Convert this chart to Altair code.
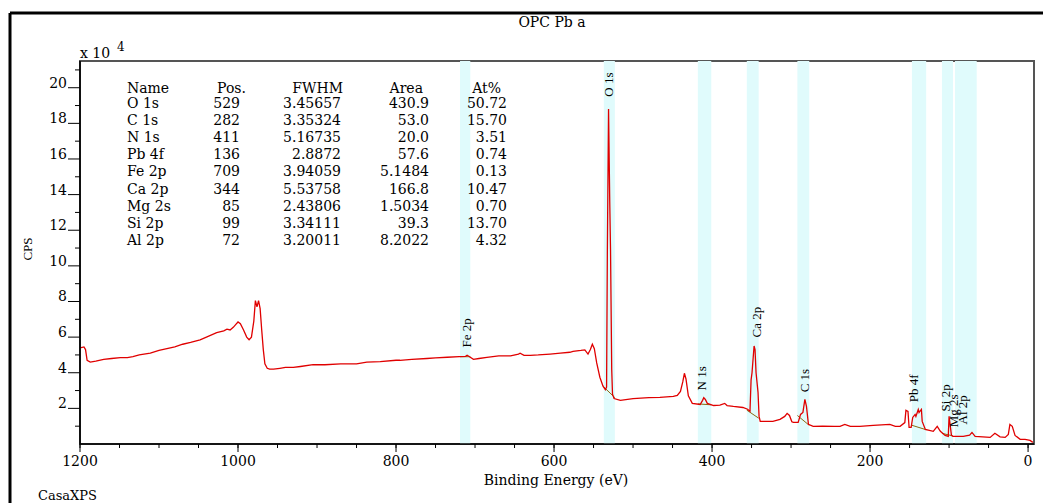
import altair as alt
import pandas as pd

# ---------------- data ----------------
# survey spectrum: binding energy (eV) and counts (x 10^4 CPS)
be = [1200, 1195, 1193, 1191, 1187, 1180, 1170, 1160, 1149, 1140, 1133, 1125, 1111, 1100,
      1090, 1080, 1070, 1060, 1048, 1040, 1027, 1018, 1014, 1010, 1006, 1003, 1000, 997,
      993, 989, 986, 983, 980, 978, 976, 974, 972, 970, 968, 966, 963, 960, 955, 947,
      940, 930, 921, 905, 890, 870, 862, 850, 837, 820, 800, 795, 780, 761, 750, 735,
      720, 712, 710, 707, 702, 695, 685, 670, 655, 645, 643, 638, 630, 620, 605, 592,
      580, 576, 566, 561, 557, 554, 551.5, 549, 546, 542, 538, 535, 533.5, 532.5, 531,
      529.5, 528.5, 527, 526, 524, 516, 500, 480, 466, 449, 444, 440, 437, 435, 433,
      430, 425, 415, 412, 410.5, 408.5, 406, 398, 390, 384, 381, 373, 361, 355, 352,
      350.6, 349.4, 346.8, 345.6, 344.3, 341.8, 340.5, 339, 330, 323, 314, 308, 305,
      302, 299, 297, 291, 288, 285, 282.5, 280.5, 278, 272, 260, 245, 238, 232, 225,
      213, 196, 175, 168, 162, 156, 154.6, 152, 150.6, 148, 146, 143, 142, 139, 138,
      135, 134, 130, 120, 115, 111, 105, 101, 100, 99, 97, 95, 82, 74, 71, 67, 48, 42,
      35.5, 29, 25, 23, 20, 16.5, 10, 3.8, -2.5, -6]
cps = [5.4, 5.45, 5.3, 4.7, 4.6, 4.65, 4.75, 4.8, 4.85, 4.85, 4.9, 5.0, 5.1, 5.25,
       5.35, 5.45, 5.6, 5.7, 5.85, 6.0, 6.25, 6.35, 6.45, 6.4, 6.55, 6.7, 6.85, 6.75,
       6.4, 6.0, 5.85, 6.0, 6.9, 8.05, 7.7, 8.05, 7.6, 6.4, 5.3, 4.5, 4.25, 4.2, 4.2, 4.25,
       4.3, 4.3, 4.35, 4.45, 4.45, 4.5, 4.5, 4.5, 4.6, 4.62, 4.7, 4.7, 4.75, 4.8, 4.83, 4.87,
       4.9, 4.92, 4.98, 4.9, 4.75, 4.8, 4.86, 4.95, 4.95, 5.05, 5.1, 4.98, 4.98, 5.0, 5.05, 5.1,
       5.15, 5.2, 5.25, 5.28, 5.05, 5.3, 5.6, 5.35, 4.55, 3.75, 3.25, 3.05, 3.2, 10.9, 18.8,
       13.6, 10.9, 4.2, 2.8, 2.55, 2.45, 2.55, 2.6, 2.62, 2.67, 2.73, 2.95, 3.5, 3.97, 3.65,
       2.7, 2.28, 2.22, 2.45, 2.6, 2.5, 2.28, 2.16, 2.18, 2.28, 2.16, 2.11, 2.05, 1.95, 1.83,
       3.6, 4.0, 5.5, 5.3, 4.0, 2.9, 1.55, 1.27, 1.27, 1.27, 1.38, 1.55, 1.72,
       1.6, 1.25, 1.21, 1.21, 1.66, 1.77, 2.5, 2.11, 1.1, 0.99, 1.0, 0.99, 0.99, 1.1, 0.99,
       0.99, 1.05, 1.1, 0.99, 0.99, 1.2, 1.89, 1.83, 0.93, 0.93, 1.49, 1.66, 1.55, 1.94, 1.77,
       1.94, 1.27, 0.82, 0.71, 0.99, 0.71, 0.48, 0.43, 1.55, 1.21, 0.48, 0.43, 0.43, 0.5, 0.65, 0.43, 0.37, 0.6,
       0.4, 0.37, 0.54, 1.1, 0.99, 0.48, 0.26, 0.26, 0.2, 0.09]

# shaded quantification regions (eV)
band_names = ["Fe 2p", "O 1s", "N 1s", "Ca 2p", "C 1s", "Pb 4f", "Si 2p", "Mg 2s", "Al 2p"]
band_hi = [719, 537, 418, 356, 292, 147, 109, 92.5, 80]
band_lo = [706, 523, 401, 341, 277, 129, 95, 78, 65]

# background lines under the regions (eV, x 10^4 CPS)
bg_names = ["Fe 2p", "O 1s", "N 1s", "Ca 2p", "C 1s", "Pb 4f", "Si 2p"]
bg_be_start = [719, 537, 418, 356, 292, 147, 109]
bg_cps_start = [4.9, 3.2, 2.25, 1.9, 1.6, 1.05, 0.6]
bg_be_end = [706, 523, 401, 341, 277, 129, 95]
bg_cps_end = [4.9, 2.6, 2.2, 1.45, 1.05, 0.8, 0.45]

# peak labels
peak_names = ["O 1s", "Fe 2p", "Ca 2p", "N 1s", "C 1s", "Pb 4f", "Si 2p", "Mg 2s", "Al 2p"]
peak_be = [530, 710, 343, 413, 282, 144, 104, 94, 82.5]
peak_cps = [19.5, 5.42, 5.98, 3.01, 2.9, 2.34, 1.83, 0.94, 1.1]

# quantification table
tbl_headers = ["Name", "Pos.", "FWHM", "Area", "At%"]
tbl_name = ["O 1s", "C 1s", "N 1s", "Pb 4f", "Fe 2p", "Ca 2p", "Mg 2s", "Si 2p", "Al 2p"]
tbl_pos = ["529", "282", "411", "136", "709", "344", "85", "99", "72"]
tbl_fwhm = ["3.45657", "3.35324", "5.16735", "2.8872", "3.94059", "5.53758", "2.43806", "3.34111", "3.20011"]
tbl_area = ["430.9", "53.0", "20.0", "57.6", "5.1484", "166.8", "1.5034", "39.3", "8.2022"]
tbl_at = ["50.72", "15.70", "3.51", "0.74", "0.13", "10.47", "0.70", "13.70", "4.32"]

# axes
x_major = [0, 200, 400, 600, 800, 1000, 1200]
x_minor = list(range(0, 1201, 50))
y_major = [2, 4, 6, 8, 10, 12, 14, 16, 18, 20]
y_minor = [1, 3, 5, 7, 9, 11, 13, 15, 17, 19, 21]
x_title = "Binding Energy (eV)"
y_title = "CPS"
chart_title = "OPC Pb  a"

# ---------------- layout / style ----------------
FONT_H = "DejaVu Serif"
FONT_V = "Liberation Serif"
W, H = 954, 383
RED = "#e00000"
BAND = "#e0fbfc"
X_LO, X_HI = -7.5, 1200
Y_LO, Y_HI = 0, 21.5

xscale = alt.Scale(domain=[X_LO, X_HI], reverse=True, nice=False, zero=False)
yscale = alt.Scale(domain=[Y_LO, Y_HI], nice=False, zero=False)


def px_to_be(px):
    return X_HI - px * (X_HI - X_LO) / W


def py_to_cps(py):
    return Y_HI - py * (Y_HI - Y_LO) / H


def X(field):
    return alt.X(field, type="quantitative", scale=xscale, axis=None)


def Y(field):
    return alt.Y(field, type="quantitative", scale=yscale, axis=None)


df_spec = pd.DataFrame({"be": be, "cps": cps, "idx": list(range(len(be)))})
df_band = pd.DataFrame({"name": band_names, "lo": band_lo, "hi": band_hi})
bg_rows = []
for n, b0, c0, b1, c1 in zip(bg_names, bg_be_start, bg_cps_start, bg_be_end, bg_cps_end):
    bg_rows.append({"name": n, "be": b0, "cps": c0})
    bg_rows.append({"name": n, "be": b1, "cps": c1})
df_bg = pd.DataFrame(bg_rows)
df_peak = pd.DataFrame({"name": peak_names, "be": peak_be, "cps": peak_cps})

# table layout (pixel offsets inside the plot area, turned into axis units)
col_right = [None, 160, 261, 349, 427]
head_right = [None, 166, 263, 343, 421]
name_left = 47
head_y = 28
row_y0 = 43
row_step = 17.1

name_rows = [{"t": tbl_headers[0], "be": px_to_be(name_left), "cps": py_to_cps(head_y)}]
for i, n in enumerate(tbl_name):
    name_rows.append({"t": n, "be": px_to_be(name_left), "cps": py_to_cps(row_y0 + i * row_step)})
num_rows = []
for j in range(1, 5):
    num_rows.append({"t": tbl_headers[j], "be": px_to_be(head_right[j]), "cps": py_to_cps(head_y)})
cols = [None, tbl_pos, tbl_fwhm, tbl_area, tbl_at]
for j in range(1, 5):
    for i, v in enumerate(cols[j]):
        num_rows.append({"t": v, "be": px_to_be(col_right[j]), "cps": py_to_cps(row_y0 + i * row_step)})
df_tname = pd.DataFrame(name_rows)
df_tnum = pd.DataFrame(num_rows)

df_xmaj = pd.DataFrame({"v": x_major, "lab": [str(v) for v in x_major]})
df_ymaj = pd.DataFrame({"v": y_major, "lab": [str(v) for v in y_major]})

# ---------------- layers ----------------
bands = alt.Chart(df_band).mark_rect(color=BAND).encode(x=X("lo"), x2="hi:Q")

bgl = alt.Chart(df_bg).mark_line(color="#8a6a10", strokeWidth=1).encode(
    x=X("be"), y=Y("cps"), detail="name:N")

spec = alt.Chart(df_spec).mark_line(color=RED, strokeWidth=1.3).encode(
    x=X("be"), y=Y("cps"), order="idx:Q")

peaks = alt.Chart(df_peak).mark_text(angle=270, align="left", baseline="middle",
                                      font=FONT_V, fontSize=13, color="black").encode(
    x=X("be"), y=Y("cps"), text="name:N")

tname = alt.Chart(df_tname).mark_text(align="left", baseline="middle", font=FONT_H,
                                       fontSize=14, color="black").encode(
    x=X("be"), y=Y("cps"), text="t:N")
tnum = alt.Chart(df_tnum).mark_text(align="right", baseline="middle", font=FONT_H,
                                     fontSize=14, color="black").encode(
    x=X("be"), y=Y("cps"), text="t:N")

# axes drawn as marks
x_dom = alt.Chart(pd.DataFrame({"a": [0]})).mark_rule(color="black", strokeWidth=1.6).encode(
    y=alt.value(H), x=alt.value(0), x2=alt.value(W))
y_dom = alt.Chart(pd.DataFrame({"a": [0]})).mark_rule(color="black", strokeWidth=1.6).encode(
    x=alt.value(0), y=alt.value(0), y2=alt.value(H))
xmaj = alt.Chart(df_xmaj).mark_rule(color="black", strokeWidth=1).encode(
    x=X("v"), y=alt.value(H), y2=alt.value(H + 8))
xmin = alt.Chart(pd.DataFrame({"v": x_minor})).mark_rule(color="black", strokeWidth=1).encode(
    x=X("v"), y=alt.value(H), y2=alt.value(H + 4))
xlab = alt.Chart(df_xmaj).mark_text(align="center", baseline="middle", font=FONT_H,
                                     fontSize=14, color="black").encode(
    x=X("v"), y=alt.value(H + 18), text="lab:N")
ymaj = alt.Chart(df_ymaj).mark_rule(color="black", strokeWidth=1).encode(
    y=Y("v"), x=alt.value(-12), x2=alt.value(0))
ymin = alt.Chart(pd.DataFrame({"v": y_minor})).mark_rule(color="black", strokeWidth=1).encode(
    y=Y("v"), x=alt.value(-5), x2=alt.value(0))
ylab = alt.Chart(df_ymaj).mark_text(align="right", baseline="alphabetic", font=FONT_H,
                                     fontSize=14, color="black").encode(
    y=Y("v"), x=alt.value(-13), text="lab:N")

ann = pd.DataFrame({"a": [0]})
xttl = alt.Chart(ann).mark_text(align="center", baseline="middle", font=FONT_H,
                                fontSize=14, color="black", text=x_title).encode(
    x=alt.value(476), y=alt.value(H + 37))
yttl = alt.Chart(ann).mark_text(align="center", baseline="middle", font=FONT_V, angle=270,
                                fontSize=13, color="black", text=y_title).encode(
    x=alt.value(-52), y=alt.value(188))
x10 = alt.Chart(ann).mark_text(align="left", baseline="alphabetic", font=FONT_H,
                               fontSize=14, color="black", text="x 10").encode(
    x=alt.value(0), y=alt.value(-3))
sup4 = alt.Chart(ann).mark_text(align="left", baseline="alphabetic", font=FONT_H,
                                fontSize=12, color="black", text="4").encode(
    x=alt.value(37), y=alt.value(-10))
casa = alt.Chart(ann).mark_text(align="left", baseline="middle", font=FONT_H,
                                fontSize=13, color="black", text="CasaXPS").encode(
    x=alt.value(-42), y=alt.value(435))
ttl = alt.Chart(ann).mark_text(align="center", baseline="middle", font=FONT_H,
                               fontSize=14, color="black", text=chart_title).encode(
    x=alt.value(472), y=alt.value(-38))
frame_left = alt.Chart(ann).mark_rule(color="black", strokeWidth=3).encode(
    x=alt.value(-70), y=alt.value(-48), y2=alt.value(H + 59))
frame_top = alt.Chart(ann).mark_rule(color="black", strokeWidth=3).encode(
    y=alt.value(-48), x=alt.value(-70), x2=alt.value(W + 9))

chart = alt.layer(
    bands, bgl, spec, peaks, tname, tnum,
    x_dom, y_dom, xmaj, xmin, xlab, ymaj, ymin, ylab,
    xttl, yttl, x10, sup4, casa, ttl, frame_left, frame_top
).properties(
    width=W, height=H,
    padding={"left": 80, "top": 61, "right": 9, "bottom": 59},
    autosize=alt.AutoSizeParams(type="none"),
).configure_view(
    stroke="#555555", strokeWidth=2
)

chart.save("out.html", embed_options={"renderer": "svg", "actions": False})
